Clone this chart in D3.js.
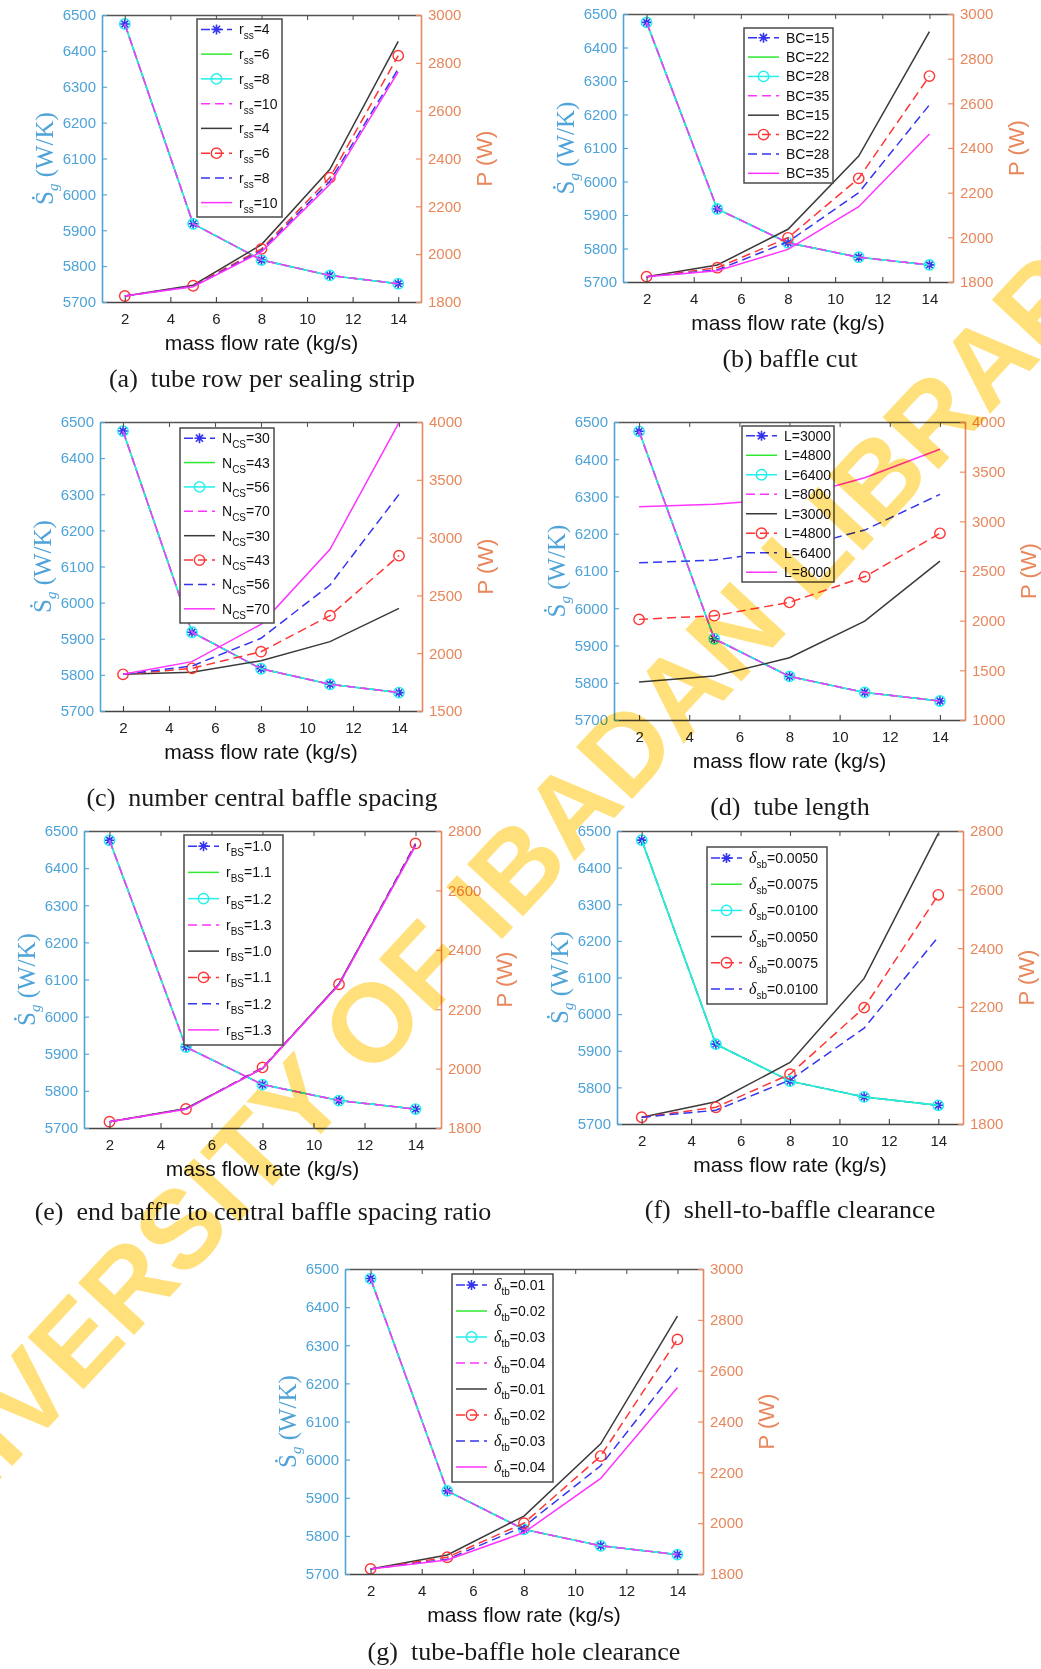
<!DOCTYPE html>
<html>
<head>
<meta charset="utf-8">
<script src="https://cdn.jsdelivr.net/npm/d3@7"></script>
<style>
  body { margin: 0; background: #fff; }
  svg text { font-family: "Liberation Sans", Arial, sans-serif; }
  .cap { font-family: "Liberation Serif", "Times New Roman", serif; white-space: pre; }
</style>
</head>
<body>
<svg id="fig" width="1041" height="1669"></svg>
<script>
// mass flow rate on x, entropy generation (left) and pump power (right)
const massFlow = [2, 5, 8, 11, 14];
const xTicks = [2, 4, 6, 8, 10, 12, 14];
const sgTicks = [5700, 5800, 5900, 6000, 6100, 6200, 6300, 6400, 6500];
const sgen = [6475, 5918, 5817, 5774, 5751];

// power curves: black, red, blue, magenta
const powerA = [[1825, 1870, 2040, 2355, 2890], [1825, 1868, 2022, 2320, 2830],
                [1825, 1866, 2015, 2305, 2775], [1825, 1864, 2010, 2292, 2762]];
const powerB = [[1824, 1876, 2036, 2364, 2921], [1824, 1864, 1998, 2264, 2722],
                [1824, 1854, 1980, 2200, 2593], [1824, 1850, 1946, 2137, 2463]];
const powerC = [[1817, 1835, 1935, 2100, 2388], [1817, 1869, 2013, 2325, 2844],
                [1817, 1889, 2129, 2590, 3374], [1817, 1927, 2250, 2899, 3995]];
const powerD = [[1382, 1442, 1627, 1996, 2600], [2013, 2050, 2184, 2442, 2879],
                [2583, 2610, 2715, 2912, 3272], [3147, 3171, 3230, 3439, 3725]];
const powerE = [[1821, 1866, 2000, 2286, 2752], [1821, 1864, 2004, 2284, 2758],
                [1821, 1864, 2002, 2283, 2755], [1821, 1863, 2001, 2282, 2750]];
const powerF = [[1823, 1876, 2010, 2297, 2792], [1823, 1857, 1970, 2197, 2582],
                [1823, 1847, 1950, 2127, 2439]];
const powerG = [[1820, 1875, 2028, 2312, 2815], [1820, 1866, 2000, 2264, 2723],
                [1820, 1858, 1987, 2226, 2612], [1820, 1855, 1963, 2176, 2534]];

const ticks1800 = [1800, 2000, 2200, 2400, 2600, 2800, 3000];
const ticks1500 = [1500, 2000, 2500, 3000, 3500, 4000];
const ticks1000 = [1000, 1500, 2000, 2500, 3000, 3500, 4000];
const ticks2800 = [1800, 2000, 2200, 2400, 2600, 2800];

const labelsA = ["4", "6", "8", "10"];
const labelsB = ["15", "22", "28", "35"];
const labelsC = ["30", "43", "56", "70"];
const labelsD = ["3000", "4800", "6400", "8000"];
const labelsE = ["1.0", "1.1", "1.2", "1.3"];
const labelsF = ["0.0050", "0.0075", "0.0100"];
const labelsG = ["0.01", "0.02", "0.03", "0.04"];

const captions = ["(a)  tube row per sealing strip", "(b) baffle cut",
  "(c)  number central baffle spacing", "(d)  tube length",
  "(e)  end baffle to central baffle spacing ratio", "(f)  shell-to-baffle clearance",
  "(g)  tube-baffle hole clearance"];

const BLUE_AX = "#4ea3d8", ORANGE_AX = "#e8875c";
const leftStyles = [
  {color: "#3434f0", dash: "9,4", marker: "star"},
  {color: "#30e830", dash: null, marker: null},
  {color: "#22eeee", dash: null, marker: "circle"},
  {color: "#ff33ff", dash: "9,5", marker: null}
];
const rightStyles = [
  {color: "#3a3a3a", dash: null, marker: null},
  {color: "#ff3535", dash: "9,5", marker: "circle"},
  {color: "#3535f0", dash: "9,5", marker: null},
  {color: "#ff33ff", dash: null, marker: null}
];

const panels = [
  {l: 102, r: 421, t: 15, b: 302, power: powerA, rDom: [1800, 3000], rTicks: ticks1800,
   sym: "r", sub: "ss", labels: labelsA, leg: [197, 19, 85, 198], cap: [262, 387]},
  {l: 623, r: 953, t: 14, b: 282, power: powerB, rDom: [1800, 3000], rTicks: ticks1800,
   sym: "BC", sub: null, labels: labelsB, leg: [744, 28, 89, 155], cap: [790, 367]},
  {l: 100, r: 422, t: 422, b: 711, power: powerC, rDom: [1500, 4000], rTicks: ticks1500,
   sym: "N", sub: "CS", labels: labelsC, leg: [180, 428, 94, 195], cap: [262, 806]},
  {l: 614, r: 965, t: 422, b: 720, power: powerD, rDom: [1000, 4000], rTicks: ticks1000,
   sym: "L", sub: null, labels: labelsD, leg: [742, 426, 92, 156], cap: [790, 815]},
  {l: 84, r: 441, t: 831, b: 1128, power: powerE, rDom: [1800, 2800], rTicks: ticks2800,
   sym: "r", sub: "BS", labels: labelsE, leg: [184, 835, 99, 210], cap: [263, 1220]},
  {l: 617, r: 963, t: 831, b: 1124, power: powerF, rDom: [1800, 2800], rTicks: ticks2800,
   sym: "δ", sub: "sb", labels: labelsF, leg: [707, 847, 120, 157], cap: [790, 1218]},
  {l: 345, r: 703, t: 1269, b: 1574, power: powerG, rDom: [1800, 3000], rTicks: ticks1800,
   sym: "δ", sub: "tb", labels: labelsG, leg: [452, 1274, 101, 208], cap: [524, 1660]}
];

const svg = d3.select("#fig");

function drawMarker(sel, kind, color, cx, cy) {
  if (kind === "star") {
    sel.append("path")
      .attr("d", `M${cx-5},${cy}H${cx+5}M${cx},${cy-5}V${cy+5}M${cx-3.6},${cy-3.6}L${cx+3.6},${cy+3.6}M${cx-3.6},${cy+3.6}L${cx+3.6},${cy-3.6}`)
      .attr("stroke", color).attr("stroke-width", 1.6).attr("fill", "none");
  } else if (kind === "circle") {
    sel.append("circle").attr("cx", cx).attr("cy", cy).attr("r", 5.2)
      .attr("stroke", color).attr("stroke-width", 1.4).attr("fill", "none");
  }
}

function styleAxis(sel, color, textColor) {
  sel.select(".domain").attr("stroke", color).attr("stroke-width", 1.6);
  sel.selectAll(".tick line").attr("stroke", color).attr("stroke-width", 1.1);
  sel.selectAll(".tick text").attr("fill", textColor).attr("font-size", 15)
    .attr("font-family", "Liberation Sans, Arial, sans-serif");
}

function drawPanel(p, idx) {
  const g = svg.append("g");
  const x = d3.scaleLinear().domain([1, 15]).range([p.l, p.r]);
  const yL = d3.scaleLinear().domain([5700, 6500]).range([p.b, p.t]);
  const yR = d3.scaleLinear().domain(p.rDom).range([p.b, p.t]);
  const nLeft = p.power.length;

  // left curves (entropy generation)
  const lineL = d3.line().x((d, i) => x(massFlow[i])).y(d => yL(d));
  for (let s = 0; s < nLeft; s++) {
    const st = leftStyles[s];
    g.append("path").attr("d", lineL(sgen)).attr("fill", "none")
      .attr("stroke", st.color).attr("stroke-width", 1.5)
      .attr("stroke-dasharray", st.dash);
    if (st.marker) sgen.forEach((v, i) => drawMarker(g, st.marker, st.color, x(massFlow[i]), yL(v)));
  }
  // right curves (pumping power)
  const lineR = d3.line().x((d, i) => x(massFlow[i])).y(d => yR(d));
  p.power.forEach((series, s) => {
    const st = rightStyles[s];
    g.append("path").attr("d", lineR(series)).attr("fill", "none")
      .attr("stroke", st.color).attr("stroke-width", 1.5)
      .attr("stroke-dasharray", st.dash);
    if (st.marker) series.forEach((v, i) => drawMarker(g, st.marker, st.color, x(massFlow[i]), yR(v)));
  });

  // axes
  const ax = g.append("g").attr("transform", `translate(0,${p.b})`)
    .call(d3.axisBottom(x).tickValues(xTicks).tickSizeInner(-5).tickSizeOuter(0).tickPadding(11));
  styleAxis(ax, "#444", "#222");
  const axT = g.append("g").attr("transform", `translate(0,${p.t})`)
    .call(d3.axisTop(x).tickValues(xTicks).tickSizeInner(-5).tickSizeOuter(0).tickFormat(""));
  styleAxis(axT, "#555", "#222");
  const ayL = g.append("g").attr("transform", `translate(${p.l},0)`)
    .call(d3.axisLeft(yL).tickValues(sgTicks).tickSizeInner(-5).tickSizeOuter(0).tickPadding(6).tickFormat(d3.format("d")));
  styleAxis(ayL, BLUE_AX, BLUE_AX);
  const ayR = g.append("g").attr("transform", `translate(${p.r},0)`)
    .call(d3.axisRight(yR).tickValues(p.rTicks).tickSizeInner(-5).tickSizeOuter(0).tickPadding(7).tickFormat(d3.format("d")));
  styleAxis(ayR, ORANGE_AX, ORANGE_AX);

  // axis titles
  const midY = (p.t + p.b) / 2;
  g.append("text").attr("x", (p.l + p.r) / 2).attr("y", p.b + 48)
    .attr("text-anchor", "middle").attr("font-size", 21).attr("fill", "#111")
    .text("mass flow rate (kg/s)");
  const yl = g.append("text").attr("transform", `translate(${p.l - 58},${midY}) rotate(-90)`)
    .attr("text-anchor", "middle").attr("dy", "0.35em").attr("fill", BLUE_AX)
    .attr("font-size", 25).style("font-family", "Liberation Serif, Times New Roman, serif");
  yl.append("tspan").text("Ṡ");
  yl.append("tspan").attr("font-size", 15).attr("font-style", "italic").attr("dy", 5).text("g");
  yl.append("tspan").attr("dy", -5).text(" (W/K)");
  g.append("text").attr("transform", `translate(${p.r + 63},${midY}) rotate(-90)`)
    .attr("text-anchor", "middle").attr("dy", "0.35em").attr("fill", ORANGE_AX)
    .attr("font-size", 22).text("P (W)");

  // legend
  const [lx, ly, lw, lh] = p.leg;
  const lg = g.append("g");
  lg.append("rect").attr("x", lx).attr("y", ly).attr("width", lw).attr("height", lh)
    .attr("fill", "#fff").attr("stroke", "#4a4a4a").attr("stroke-width", 1.5);
  const entries = [];
  p.labels.forEach(t => entries.push(t));
  const styles = leftStyles.slice(0, nLeft).concat(rightStyles.slice(0, nLeft));
  const labels = p.labels.concat(p.labels);
  const step = lh / styles.length;
  styles.forEach((st, i) => {
    const cy = ly + step * (i + 0.5) - (p.sub ? 2 : 0);
    lg.append("line").attr("x1", lx + 4).attr("x2", lx + 35).attr("y1", cy).attr("y2", cy)
      .attr("stroke", st.color).attr("stroke-width", 1.5).attr("stroke-dasharray", st.dash);
    if (st.marker) drawMarker(lg, st.marker, st.color, lx + 19.5, cy);
    const t = lg.append("text").attr("x", lx + 42).attr("y", cy + 5)
      .attr("font-size", 14).attr("fill", "#111");
    const s = t.append("tspan").text(p.sym);
    if (p.sym === "δ") s.attr("font-style", "italic").style("font-family", "Liberation Serif, serif").attr("font-size", 16);
    if (p.sub) {
      t.append("tspan").attr("font-size", 10).attr("dy", 5).text(p.sub);
      t.append("tspan").attr("dy", -5).text("=" + labels[i]);
    } else {
      t.append("tspan").text("=" + labels[i]);
    }
  });

  // caption
  svg.append("text").attr("class", "cap").attr("x", p.cap[0]).attr("y", p.cap[1])
    .attr("text-anchor", "middle").attr("font-size", 26).attr("fill", "#1a1a1a")
    .style("font-family", "Liberation Serif, Times New Roman, serif")
    .text(captions[idx]);
}

panels.forEach(drawPanel);

// library watermark
svg.append("text")
  .attr("transform", "translate(-102,1589) rotate(-47.1)")
  .attr("font-size", 111).attr("font-weight", "bold").attr("fill", "#ffe07a")
  .style("mix-blend-mode", "multiply")
  .text("UNIVERSITY OF IBADAN LIBRARY");
</script>
</body>
</html>
